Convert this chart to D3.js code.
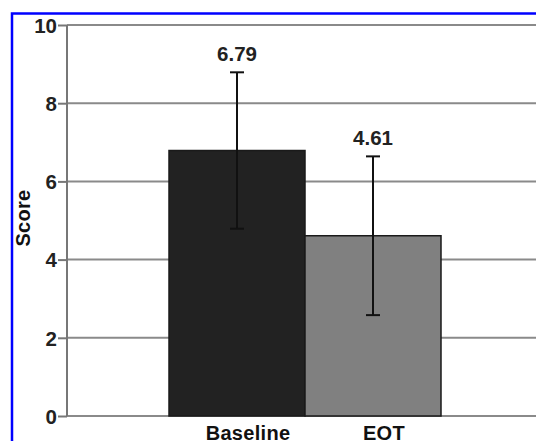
<!DOCTYPE html>
<html><head><meta charset="utf-8">
<script src="https://cdn.jsdelivr.net/npm/d3@7"></script>
<style>body{margin:0;background:#fff}svg{display:block}</style>
</head><body>
<script>
const categories = ["Baseline", "EOT"];
const values = [6.79, 4.61];
const errors = [2.0, 2.03];
const valueLabels = ["6.79", "4.61"];
const yTicks = [0, 2, 4, 6, 8, 10];
const barColors = ["#222222", "#808080"];

const W = 536, H = 441;
const svg = d3.select("body").append("svg").attr("width", W).attr("height", H);
const font = "Liberation Sans, Arial, sans-serif";

// blue frame
svg.append("rect").attr("x", 12).attr("y", 13.5).attr("width", 600).attr("height", 600)
  .attr("fill", "none").attr("stroke", "#0000ff").attr("stroke-width", 2.5);

const y = d3.scaleLinear().domain([0, 10]).range([416, 25]);
const x = d3.scaleBand().domain(categories).range([169, 441]).padding(0);
const axisX = 67;

// gridlines
svg.append("g").selectAll("line").data(yTicks).join("line")
  .attr("x1", axisX).attr("x2", W).attr("y1", d => y(d)).attr("y2", d => y(d))
  .attr("stroke", "#8a8a8a").attr("stroke-width", 2);

// y axis
const yAxis = d3.axisLeft(y).tickValues(yTicks).tickSize(9).tickPadding(1).tickFormat(d3.format("d"));
const gy = svg.append("g").attr("transform", `translate(${axisX},0)`).call(yAxis);
gy.select(".domain").attr("stroke", "#777").attr("stroke-width", 2).attr("d", `M0,${y(0)}V${y(10)}`);
gy.selectAll(".tick line").attr("stroke", "#777").attr("stroke-width", 2);
gy.selectAll(".tick text").attr("font-family", font).attr("font-size", 20.5).attr("font-weight", "bold")
  .attr("fill", "#222").attr("dy", "0.36em");

// bars
svg.append("g").selectAll("rect").data(categories).join("rect")
  .attr("x", d => x(d)).attr("width", x.bandwidth())
  .attr("y", (d, i) => y(values[i])).attr("height", (d, i) => y(0) - y(values[i]))
  .attr("fill", (d, i) => barColors[i]).attr("stroke", "#1a1a1a").attr("stroke-width", 1.5);

// error bars
const eb = svg.append("g").attr("stroke", "#111").attr("stroke-width", 2);
categories.forEach((c, i) => {
  const cx = x(c) + x.bandwidth() / 2;
  const hi = y(values[i] + errors[i]), lo = y(values[i] - errors[i]);
  eb.append("line").attr("x1", cx).attr("x2", cx).attr("y1", hi).attr("y2", lo);
  eb.append("line").attr("x1", cx - 7).attr("x2", cx + 7).attr("y1", hi).attr("y2", hi);
  eb.append("line").attr("x1", cx - 7).attr("x2", cx + 7).attr("y1", lo).attr("y2", lo);
  svg.append("text").attr("x", cx).attr("y", hi - 11).attr("text-anchor", "middle")
    .attr("font-family", font).attr("font-size", 20.5).attr("font-weight", "bold").attr("fill", "#222")
    .text(valueLabels[i]);
});

// category labels
svg.append("g").selectAll("text").data(categories).join("text")
  .attr("x", d => x(d) + x.bandwidth() / 2 + 11).attr("y", 440).attr("text-anchor", "middle")
  .attr("font-family", font).attr("font-size", 20).attr("font-weight", "bold").attr("fill", "#111")
  .attr("letter-spacing", 0.3).text(d => d);

// y label
svg.append("text").attr("transform", "translate(30,218) rotate(-90)").attr("text-anchor", "middle")
  .attr("font-family", font).attr("font-size", 20).attr("font-weight", "bold").attr("fill", "#111")
  .attr("letter-spacing", 0.3).text("Score");
</script>
</body></html>
